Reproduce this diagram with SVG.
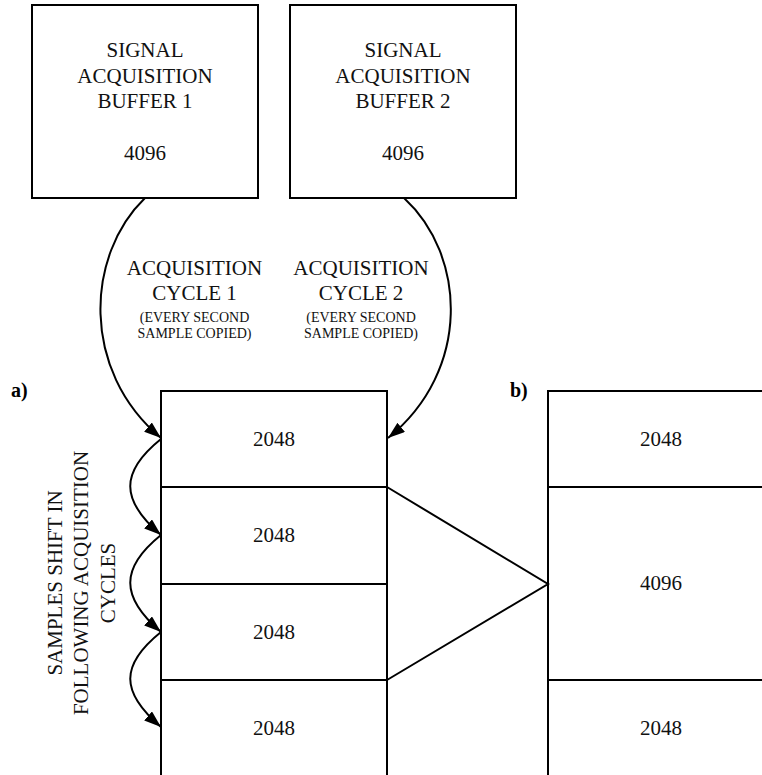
<svg xmlns="http://www.w3.org/2000/svg" width="762" height="775" viewBox="0 0 762 775">
<style>
.box{fill:#fff;stroke:#000;stroke-width:2}
.ln{fill:none;stroke:#000;stroke-width:2}
.t{font-family:"Liberation Serif","Times New Roman",serif;font-size:21px;fill:#111;text-anchor:middle}
.s{font-family:"Liberation Serif","Times New Roman",serif;font-size:14px;fill:#111;text-anchor:middle}
.lb{font-family:"Liberation Serif","Times New Roman",serif;font-size:20px;font-weight:bold;fill:#000}
</style>
<defs>
<marker id="ah" markerUnits="userSpaceOnUse" markerWidth="18" markerHeight="13" refX="17" refY="6" orient="auto">
<path d="M0,0 L17,6 L0,12 z" fill="#000"/>
</marker>
</defs>
<rect width="762" height="775" fill="#fff"/>
<g id="buffer1">
<rect class="box" x="32" y="5" width="226" height="193"/>
<text class="t" x="145" y="57">SIGNAL</text>
<text class="t" x="145" y="83">ACQUISITION</text>
<text class="t" x="145" y="108">BUFFER 1</text>
<text class="t" x="145" y="160">4096</text>
</g>
<g id="buffer2">
<rect class="box" x="290" y="5" width="226" height="193"/>
<text class="t" x="403" y="57">SIGNAL</text>
<text class="t" x="403" y="83">ACQUISITION</text>
<text class="t" x="403" y="108">BUFFER 2</text>
<text class="t" x="403" y="160">4096</text>
</g>
<g id="label-cycle1">
<text class="t" x="194.5" y="275">ACQUISITION</text>
<text class="t" x="194.5" y="300">CYCLE 1</text>
<text class="s" x="194.5" y="322">(EVERY SECOND</text>
<text class="s" x="194.5" y="338">SAMPLE COPIED)</text>
</g>
<g id="label-cycle2">
<text class="t" x="361" y="275">ACQUISITION</text>
<text class="t" x="361" y="300">CYCLE 2</text>
<text class="s" x="361" y="322">(EVERY SECOND</text>
<text class="s" x="361" y="338">SAMPLE COPIED)</text>
</g>
<g id="label-a"><text class="lb" x="11" y="397">a)</text></g>
<g id="label-b"><text class="lb" x="510" y="397">b)</text></g>
<g id="column-a">
<rect class="box" x="161" y="391" width="226" height="400"/>
<line class="ln" x1="161" y1="487" x2="387" y2="487"/>
<line class="ln" x1="161" y1="584" x2="387" y2="584"/>
<line class="ln" x1="161" y1="680" x2="387" y2="680"/>
<text class="t" x="274" y="446">2048</text>
<text class="t" x="274" y="542">2048</text>
<text class="t" x="274" y="639">2048</text>
<text class="t" x="274" y="735">2048</text>
</g>
<g id="column-b">
<rect class="box" x="548" y="391" width="226" height="400"/>
<line class="ln" x1="548" y1="487" x2="774" y2="487"/>
<line class="ln" x1="548" y1="680" x2="774" y2="680"/>
<text class="t" x="661" y="446">2048</text>
<text class="t" x="661" y="590">4096</text>
<text class="t" x="661" y="735">2048</text>
</g>
<g id="shift-label">
<g transform="translate(61.5,583) rotate(-90)"><text class="t" x="0" y="0">SAMPLES SHIFT IN</text></g>
<g transform="translate(88,583) rotate(-90)"><text class="t" x="0" y="0">FOLLOWING ACQUISITION</text></g>
<g transform="translate(114.5,583) rotate(-90)"><text class="t" x="0" y="0">CYCLES</text></g>
</g>
<g id="connectors">
<path class="ln" d="M145,198 C86,255 80,370 161,438" marker-end="url(#ah)"/>
<path class="ln" d="M404,198 C466,255 472,370 388,438" marker-end="url(#ah)"/>
<path class="ln" d="M161,439 C120,472 120,500 161,535" marker-end="url(#ah)"/>
<path class="ln" d="M161,535 C120,568 120,597 161,632" marker-end="url(#ah)"/>
<path class="ln" d="M161,632 C120,665 120,692 161,727" marker-end="url(#ah)"/>
<polyline class="ln" points="387,487 548,584 387,680"/>
</g>
</svg>
